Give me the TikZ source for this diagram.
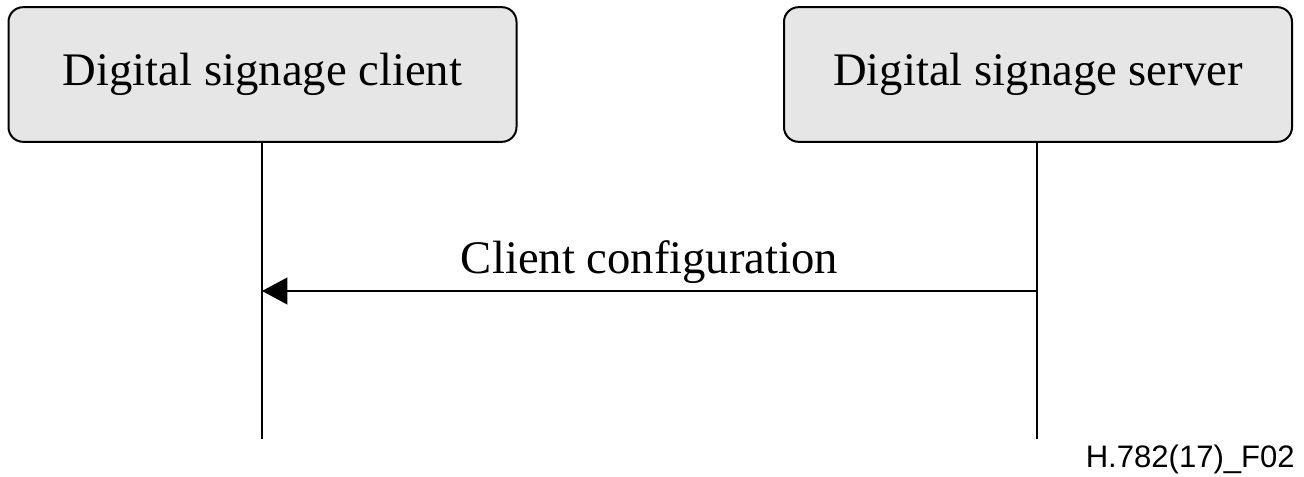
\documentclass[tikz,border=0pt]{standalone}
\usepackage{fontspec}
\setmainfont{Liberation Serif}
\setsansfont{Liberation Sans}
\usetikzlibrary{arrows.meta}
\definecolor{boxfill}{HTML}{E6E6E6}
\tikzset{
  actor/.style={draw=black, line width=1.5pt, fill=boxfill, rounded corners=11pt,
    minimum width=381pt, minimum height=101pt, inner sep=0pt,
    font=\fontsize{35}{40}\selectfont},
  lifeline/.style={line width=1.5pt},
  msg/.style={line width=1.5pt, -{Triangle[length=19pt,width=20pt]}},
  lbl/.style={font=\fontsize{35}{40}\selectfont, inner sep=0pt},
}
\begin{document}
\begin{tikzpicture}[x=0.75pt,y=-0.75pt]
\useasboundingbox (0,0) rectangle (1304,477);
\node[actor] (client) at (262.5,74.5) {\raisebox{4pt}{Digital signage client}};
\node[actor] (server) at (1038,74.5) {\raisebox{4pt}{Digital signage server}};
\coordinate (cend) at (262,439);
\coordinate (send) at (1037,439);
\coordinate (cm) at (262,291);
\coordinate (sm) at (1037,291);
\draw[lifeline] (client.south -| cend) -- (cend);
\draw[lifeline] (server.south -| send) -- (send);
\draw[msg] (sm) -- (cm);
\node[lbl, anchor=base] (msglbl) at (649.5,274) {Client configuration};
\node[anchor=base east, inner sep=0pt, font=\sffamily\fontsize{23.3}{27}\selectfont] (fig) at (1295,467) {H.782(17)\_F02};
\end{tikzpicture}
\end{document}
